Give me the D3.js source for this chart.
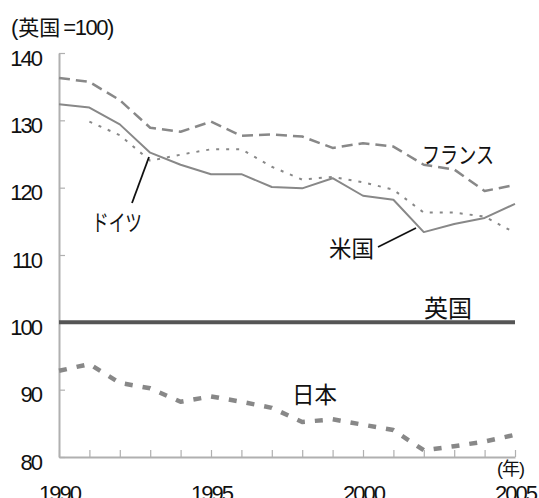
<!DOCTYPE html>
<html><head><meta charset="utf-8">
<script src="https://cdn.jsdelivr.net/npm/d3@7"></script>
<style>
body{margin:0;background:#fff;}
svg{display:block;}
</style></head>
<body>
<svg id="c" width="539" height="498"></svg>
<script>
const years = [1990,1991,1992,1993,1994,1995,1996,1997,1998,1999,2000,2001,2002,2003,2004,2005];
const france = [136.3,135.7,133.0,128.9,128.3,129.8,127.7,127.9,127.6,125.9,126.6,126.1,123.4,122.7,119.5,120.4];
const usa = [132.4,131.9,129.4,125.2,123.4,122.0,122.0,120.1,119.9,121.4,118.8,118.2,113.4,114.6,115.5,117.6];
const germany = [null,129.8,127.8,124.0,124.9,125.7,125.7,123.1,121.2,121.6,120.8,119.7,116.3,116.3,115.7,113.3];
const japan = [92.8,93.8,91.0,90.2,88.2,89.0,88.2,87.3,85.2,85.6,84.8,84.0,81.0,81.6,82.3,83.3];
const uk = [100,100,100,100,100,100,100,100,100,100,100,100,100,100,100,100];
const yTicks = [80,90,100,110,120,130,140];
const xLabels = [1990,1995,2000,2005];

const svg = d3.select("#c");
const x = d3.scaleLinear().domain([1990,2005]).range([59,515]);
const y = d3.scaleLinear().domain([80,140]).range([457,53]);
const axisColor = "#b0b0b0";
const numFont = "'Liberation Sans', Arial, sans-serif";
const jpFont = "'Noto Sans CJK JP', sans-serif";

// y axis
const ya = svg.append("g").attr("transform","translate(59,0)")
  .call(d3.axisLeft(y).tickValues(yTicks).tickSize(-6).tickSizeOuter(0).tickPadding(18).tickFormat(d3.format("d")));
ya.select(".domain").attr("stroke",axisColor).attr("stroke-width",2);
ya.selectAll(".tick line").attr("stroke",axisColor).attr("stroke-width",1.2);
ya.selectAll(".tick text").attr("font-family",numFont).attr("font-size",22).attr("letter-spacing",-2)
  .attr("fill","#111").attr("dy",null).attr("y",12);

// x axis
const xa = svg.append("g").attr("transform","translate(0,457)")
  .call(d3.axisBottom(x).tickValues(years).tickSize(-7).tickSizeOuter(0).tickPadding(28)
    .tickFormat(d => xLabels.includes(d) ? String(d) : ""));
xa.select(".domain").attr("stroke",axisColor).attr("stroke-width",2);
xa.selectAll(".tick line").attr("stroke",axisColor).attr("stroke-width",1.2);
xa.selectAll(".tick text").attr("font-family",numFont).attr("font-size",22).attr("letter-spacing",-2)
  .attr("fill","#111");

const line = d3.line().defined(d => d[1] != null).x(d => x(d[0])).y(d => y(d[1]));
function draw(vals, color, width, dash){
  svg.append("path").datum(years.map((yr,i)=>[yr,vals[i]]))
    .attr("d",line).attr("fill","none").attr("stroke",color).attr("stroke-width",width)
    .attr("stroke-dasharray",dash).attr("stroke-linejoin","round");
}
draw(uk,"#555",4,null);
draw(usa,"#888",2,null);
draw(germany,"#888",2,"3,7");
draw(france,"#888",2.5,"11,6");
draw(japan,"#888",4.5,"8,10");

// title
const t = svg.append("text").attr("x",11).attr("y",35).attr("font-family",numFont+", "+jpFont)
  .attr("font-size",22).attr("fill","#111");
t.append("tspan").text("(");
t.append("tspan").attr("font-family",jpFont).attr("font-size",21).text("英国");
t.append("tspan").attr("dx",3).attr("letter-spacing",-1.5).text("=100)");
svg.append("text").attr("x",497).attr("y",475).attr("font-family",numFont+", "+jpFont)
  .attr("font-size",18).attr("letter-spacing",-1).attr("fill","#111").text("(年)");

// annotations
function label(t, xx, yy, size, len){
  const e = svg.append("text").attr("x",xx).attr("y",yy).attr("font-family",jpFont)
    .attr("font-size",size).attr("fill","#111").text(t);
  if(len) e.attr("textLength",len).attr("lengthAdjust","spacingAndGlyphs");
}
label("フランス",422,163,23,72);
label("ドイツ",92,231,23,50);
label("米国",329,257,23,45);
label("英国",424,317,24,48);
label("日本",292,403,23,45);

svg.append("line").attr("x1",132).attr("y1",203).attr("x2",149).attr("y2",157).attr("stroke","#111").attr("stroke-width",1.8);
svg.append("line").attr("x1",378).attr("y1",247).attr("x2",416).attr("y2",228).attr("stroke","#111").attr("stroke-width",1.8);
</script>
</body></html>
